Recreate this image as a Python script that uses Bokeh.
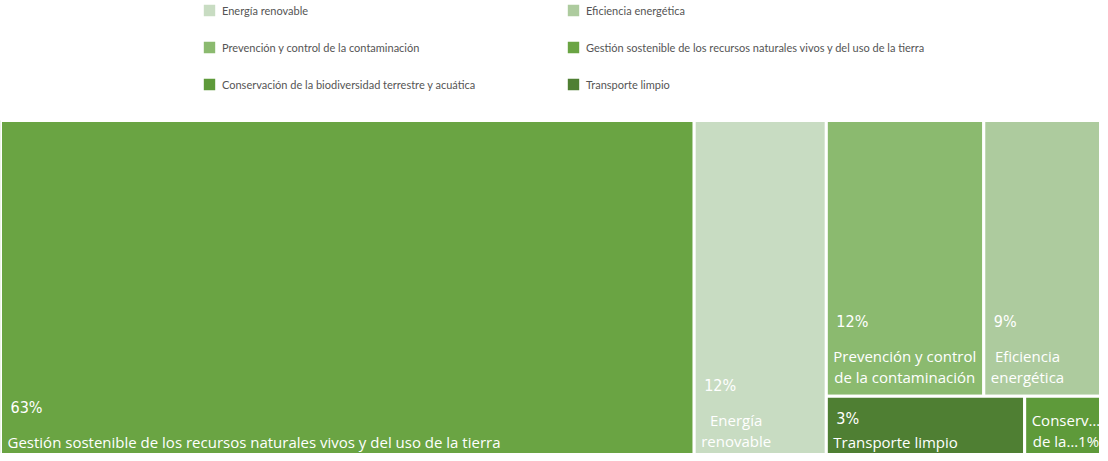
from bokeh.plotting import figure
from bokeh.models import ColumnDataSource, Range1d, Legend, LegendItem
from bokeh.core.properties import value
from bokeh.embed import file_html
from bokeh.resources import INLINE

# ---- data -------------------------------------------------------------
categories = [
    "Gestión sostenible de los recursos naturales vivos y del uso de la tierra",
    "Energía renovable",
    "Prevención y control de la contaminación",
    "Eficiencia energética",
    "Transporte limpio",
    "Conservación de la biodiversidad terrestre y acuática",
]
shares = [63.0, 12.0, 11.6, 8.6, 3.4, 1.3]
colors = ["#6aa443", "#c8dcc2", "#8bba6f", "#adcb9e", "#4f7f33", "#5e9a3a"]
box_labels = [
    "Gestión sostenible de los recursos naturales vivos y del uso de la tierra",
    "Energía\nrenovable",
    "Prevención y control\nde la contaminación",
    "Eficiencia\nenergética",
    "Transporte limpio",
    "Conserv…\nde la…1%",
]
show_pct = [True, True, True, True, True, False]
# legend is filled column by column
legend_order = [1, 2, 5, 3, 0, 4]
# treemap arrangement: columns -> rows -> items
arrangement = [[[0]], [[1]], [[2, 3], [4, 5]]]

# ---- geometry (data units == pixels) -----------------------------------
W, H = 1100, 453
X0, X1, YT, YB = 0, W, H - 120, -7
LINE = 22

total = sum(shares)
rects = {}
x = X0
for col in arrangement:
    csum = sum(shares[i] for row in col for i in row)
    cw = (X1 - X0) * csum / total
    y = YT
    for row in col:
        rsum = sum(shares[i] for i in row)
        rh = (YT - YB) * rsum / csum
        xx = x
        for i in row:
            w = cw * shares[i] / rsum
            rects[i] = (xx, xx + w, y - rh, y)
            xx += w
        y -= rh
    x += cw

idx = list(range(len(categories)))
box = ColumnDataSource(dict(
    left=[rects[i][0] for i in idx], right=[rects[i][1] for i in idx],
    bottom=[rects[i][2] for i in idx], top=[rects[i][3] for i in idx],
    color=colors,
))

name_src = ColumnDataSource(dict(
    x=[rects[i][0] + 7 for i in idx],
    y=[rects[i][2] + 9 for i in idx],
    text=box_labels,
))

pct_x, pct_y, pct_t = [], [], []
for i in idx:
    if not show_pct[i]:
        continue
    n = box_labels[i].count("\n") + 1
    last_center = rects[i][2] + 17
    c = last_center + LINE * (n - 1) + 36
    c = min(c, rects[i][3] - 22)
    pct_x.append(rects[i][0] + 10)
    pct_y.append(c)
    pct_t.append(f"{round(shares[i])}%")
pct_src = ColumnDataSource(dict(x=pct_x, y=pct_y, text=pct_t))

# ---- figure -------------------------------------------------------------
p = figure(width=W, height=H, x_range=Range1d(0, W), y_range=Range1d(0, H),
           output_backend="svg", toolbar_location=None, min_border=0)
p.axis.visible = False
p.grid.visible = False
p.outline_line_color = None
p.background_fill_color = "white"

boxes = p.quad(left="left", right="right", bottom="bottom", top="top", source=box,
               fill_color="color", line_color="white", line_width=3)

p.text(x="x", y="y", text="text", source=name_src,
       anchor=value("bottom_left"), text_align="center",
       text_font=value("Open Sans"), text_font_size="15px",
       text_color="white", text_line_height=1.08)
p.text(x="x", y="y", text="text", source=pct_src,
       text_align="left", text_baseline="middle",
       text_font=value("DejaVu Sans Condensed"), text_font_size="16px",
       text_color="white")

items = [LegendItem(label=categories[i], renderers=[boxes], index=i)
         for i in legend_order]

legend = Legend(items=items, ncols=2, location=(200, 359),
                border_line_color=None, background_fill_alpha=0,
                padding=0, margin=0, spacing=17,
                glyph_width=18, glyph_height=18, label_height=20,
                label_standoff=4, label_width=325,
                label_text_font="Lato", label_text_font_size="11px",
                label_text_color="#555555")
p.add_layout(legend, "center")

open("out.html", "w").write(file_html(p, INLINE))
